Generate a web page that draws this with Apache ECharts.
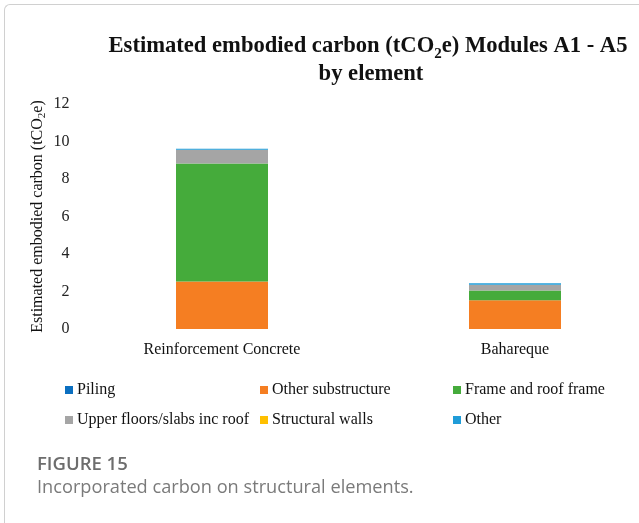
<!DOCTYPE html>
<html>
<head>
<meta charset="utf-8">
<script src="https://cdn.jsdelivr.net/npm/echarts@6/dist/echarts.min.js"></script>
<style>
html,body{margin:0;padding:0;background:#fff;}
#wrap{position:relative;width:639px;height:523px;overflow:hidden;}
#frame{position:absolute;left:4px;top:4px;width:700px;height:600px;border-left:1px solid #d0d0d0;border-top:1px solid #d0d0d0;border-top-left-radius:6px;}
#chart{position:absolute;left:0;top:0;width:700px;height:523px;}
#cap1{position:absolute;left:37px;top:450px;font-family:"Open Sans",sans-serif;font-weight:600;font-size:18.5px;color:#6d6d6d;}
#cap2{position:absolute;left:37px;top:474px;font-family:"Open Sans",sans-serif;font-size:18.2px;color:#7a7a7a;}
</style>
</head>
<body>
<div id="wrap">
<div id="frame"></div>
<div id="chart"></div>
<div id="cap1">FIGURE 15</div>
<div id="cap2">Incorporated carbon on structural elements.</div>
</div>
<script>
const categories = ['Reinforcement Concrete', 'Bahareque'];
const seriesNames = ['Piling', 'Other substructure', 'Frame and roof frame', 'Upper floors/slabs inc roof', 'Structural walls', 'Other'];
const piling = [0, 0];
const otherSubstructure = [2.54, 1.53];
const frameRoof = [6.29, 0.53];
const upperFloors = [0.73, 0.30];
const structuralWalls = [0, 0];
const other = [0.05, 0.08];
const yTicks = [0, 2, 4, 6, 8, 10, 12];
const colors = ['#0B6FC0', '#F57E22', '#45AB3B', '#A5A5A5', '#FFC000', '#1F9CD8'];

const values = [piling, otherSubstructure, frameRoof, upperFloors, structuralWalls, other];
const serif = '"Liberation Serif", "Times New Roman", serif';

const chart = echarts.init(document.getElementById('chart'), null, {renderer: 'canvas'});

const series = seriesNames.map((n, i) => ({
  name: n,
  type: 'bar',
  stack: 'total',
  barWidth: 92,
  data: values[i],
  itemStyle: {color: colors[i]},
  emphasis: {disabled: true}
}));

function legendCol(names, left) {
  return {
    orient: 'vertical',
    left: left,
    top: 382,
    padding: 0,
    itemWidth: 8,
    itemHeight: 8,
    itemGap: 14,
    icon: 'rect',
    selectedMode: false,
    textStyle: {fontFamily: serif, fontSize: 16, color: '#111', padding: [0, 0, 0, -1]},
    data: names
  };
}

chart.setOption({
  animation: false,
  color: colors,
  title: [
    {
      text: 'Estimated embodied carbon (tCO{sub|2}e) Modules A1 - A5',
      left: 363, top: 25, textAlign: 'center',
      textStyle: {
        fontFamily: serif, fontSize: 22.6, fontWeight: 'bold', color: '#111', lineHeight: 32,
        rich: {sub: {fontFamily: serif, fontSize: 15, fontWeight: 'bold', color: '#111', lineHeight: 14, verticalAlign: 'bottom'}}
      }
    },
    {
      text: 'by element',
      left: 366, top: 58, textAlign: 'center',
      textStyle: {fontFamily: serif, fontSize: 22.6, fontWeight: 'bold', color: '#111'}
    }
  ],
  legend: [
    legendCol(['Piling', 'Upper floors/slabs inc roof'], 65),
    legendCol(['Other substructure', 'Structural walls'], 260),
    legendCol(['Frame and roof frame', 'Other'], 453)
  ],
  grid: {left: 75.5, top: 104, width: 586, height: 225},
  xAxis: {
    type: 'category',
    data: categories,
    axisLine: {show: false},
    axisTick: {show: false},
    axisLabel: {fontFamily: serif, fontSize: 16, color: '#111', margin: 13}
  },
  yAxis: {
    type: 'value',
    min: 0, max: 12, interval: 2,
    axisLine: {show: false},
    axisTick: {show: false},
    splitLine: {show: false},
    axisLabel: {fontFamily: serif, fontSize: 16, color: '#222', margin: 6,
      formatter: v => yTicks.includes(v) ? String(v) : ''},
    name: 'Estimated embodied carbon (tCO{sub|2}e)',
    nameLocation: 'middle',
    nameGap: 28,
    nameMoveOverlap: false,
    nameRotate: 90,
    nameTextStyle: {fontFamily: serif, fontSize: 16, color: '#111',
      rich: {sub: {fontFamily: serif, fontSize: 11, color: '#111', padding: [8, 0, 0, 0]}}}
  },
  series: series
});
</script>
</body>
</html>
